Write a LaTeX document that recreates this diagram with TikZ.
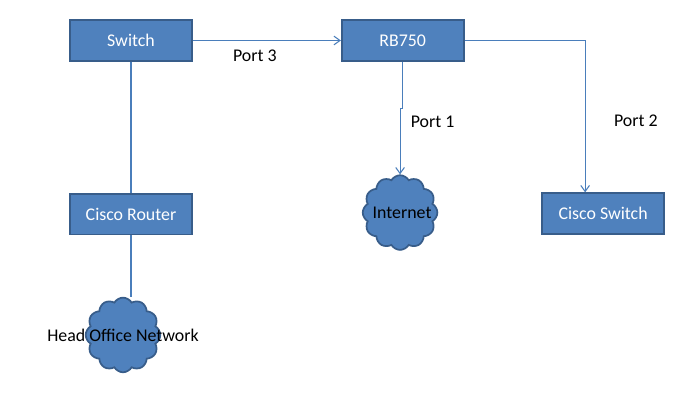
\documentclass[tikz,border=0pt]{standalone}
\usepackage{fontspec}
\setmainfont{Carlito}
\usetikzlibrary{arrows.meta, positioning, shapes.symbols}
\definecolor{boxfill}{HTML}{4F81BD}
\definecolor{boxline}{HTML}{385D8A}
\definecolor{wire}{HTML}{4A7EBB}
\tikzset{
  netbox/.style={draw=boxline, line width=1.3pt, fill=boxfill, text=white, minimum width=91.5pt, minimum height=30.5pt, inner sep=0pt},
  netcloud/.style={draw=boxline, line width=1.3pt, fill=boxfill, cloud, cloud puffs=12, cloud puff arc=120, aspect=1, inner sep=0pt, minimum width=56pt, minimum height=56pt},
}
\begin{document}
\begin{tikzpicture}[x=.75pt, y=-.75pt, every node/.style={font={\fontsize{13.4pt}{15pt}\selectfont}}, >={Straight Barb[length=4.5pt, width=6.5pt]}, wire/.style={draw=wire, line width=.8pt}]
    \useasboundingbox (0,0) rectangle (676,413);
    \node[netbox] (switch) at (131,40.5) {Switch};
    \node[netbox] (rb) [right=111pt of switch] {RB750};
    \node[netbox] (router) [below=98.5pt of switch] {Cisco Router};
    \node[netbox] (ciscosw) [below right=98pt and 57.5pt of rb.south east, anchor=north west] {Cisco Switch};
    \node[netcloud] (internet) [below=84.5pt of rb, xshift=-2pt] {};
    \node (internettext) [xshift=1.5pt] at (internet.center) {Internet};
    \node[netcloud] (office) [below=46pt of router, xshift=-6pt] {};
    \node (officetext) at (office.center) {Head Office Network};

    \draw[wire, ->] (switch.east) to [edge node={node [below, xshift=-9pt, yshift=-3pt] {Port 3}}] (rb.west);
    \draw[wire] (switch.south) -- (router.north);
    \draw[wire] (router.south) -- (router.south |- office.north);
    \draw[wire, ->] (rb.south) -- ++(0,47) -| (internet.north);
    \draw[wire, ->] (rb.east) -| ([xshift=-13.5pt]ciscosw.north);
    \node (port1) [below right=37pt and 2.5pt of rb.south] {Port 1};
    \node (port2) [below right=36.5pt and 155pt of rb.south] {Port 2};
\end{tikzpicture}
\end{document}
